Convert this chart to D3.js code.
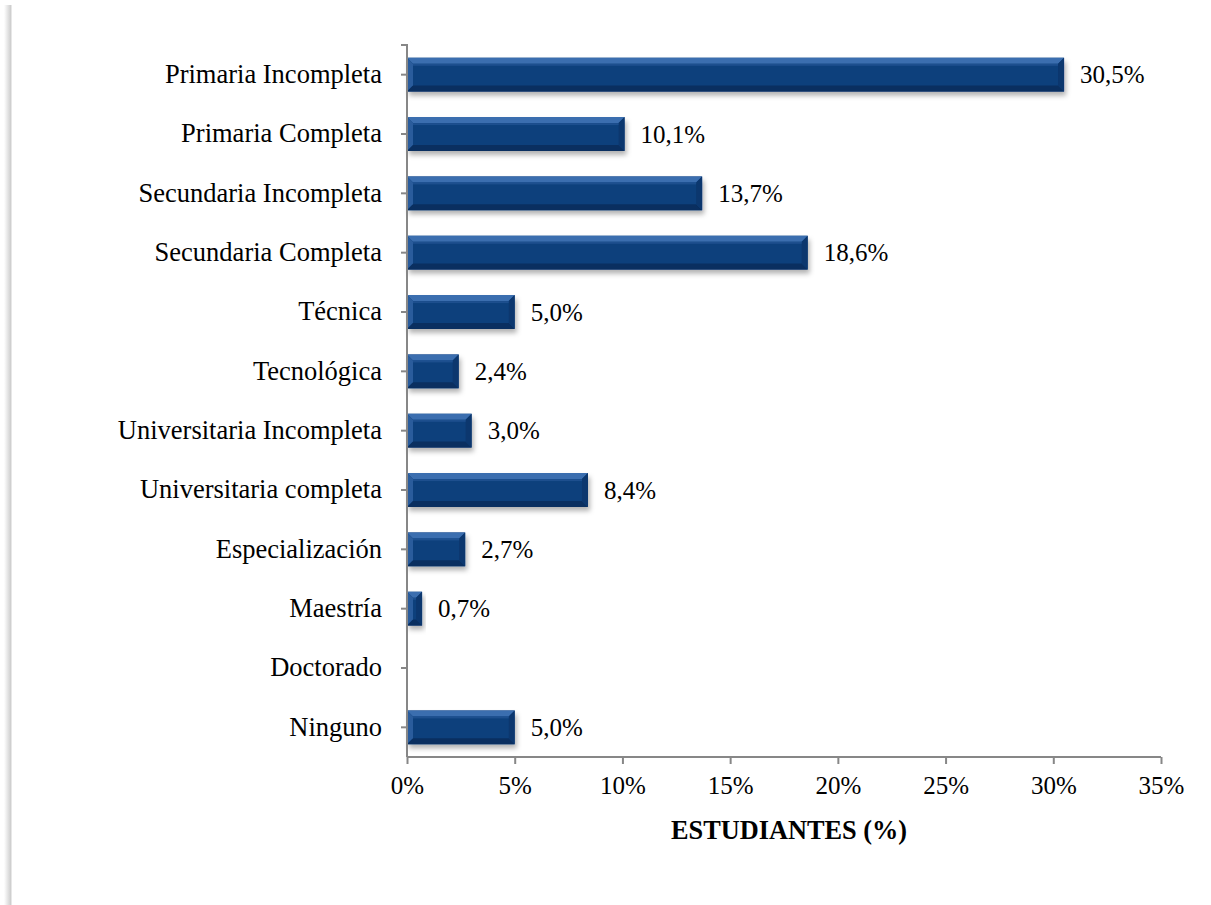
<!DOCTYPE html>
<html>
<head>
<meta charset="utf-8">
<script src="https://cdn.jsdelivr.net/npm/d3@7"></script>
<style>
  html, body { margin: 0; padding: 0; background: #fff; }
  svg { display: block; }
  text { font-family: "Liberation Serif", "Times New Roman", serif; fill: #000; }
</style>
</head>
<body>
<svg id="chart" width="1211" height="905"></svg>
<script>
const categories = [
  "Primaria Incompleta", "Primaria Completa", "Secundaria Incompleta",
  "Secundaria Completa", "Técnica", "Tecnológica", "Universitaria Incompleta",
  "Universitaria completa", "Especialización", "Maestría", "Doctorado", "Ninguno"
];
const values = [30.5, 10.1, 13.7, 18.6, 5.0, 2.4, 3.0, 8.4, 2.7, 0.7, 0, 5.0];
const tickValues = [0, 5, 10, 15, 20, 25, 30, 35];
const axisTitle = "ESTUDIANTES (%)";

const svg = d3.select("#chart");
const defs = svg.append("defs");

// page-edge shadow on the left
const lg = defs.append("linearGradient").attr("id", "edge").attr("x1", 0).attr("x2", 1);
lg.append("stop").attr("offset", "0%").attr("stop-color", "#fff");
lg.append("stop").attr("offset", "100%").attr("stop-color", "#d4d4d4");
svg.append("rect").attr("x", 4).attr("y", 5).attr("width", 6).attr("height", 900).attr("fill", "url(#edge)");
svg.append("rect").attr("x", 10).attr("y", 5).attr("width", 1.5).attr("height", 900).attr("fill", "#cfcfcf");

const flt = defs.append("filter").attr("id", "shadow")
  .attr("x", "-10%").attr("y", "-20%").attr("width", "130%").attr("height", "160%");
flt.append("feDropShadow").attr("dx", 2).attr("dy", 4).attr("stdDeviation", 2.5)
  .attr("flood-color", "#000").attr("flood-opacity", 0.3);

const x0 = 407, x1 = 1161, yTop = 45, yBot = 757;
const x = d3.scaleLinear().domain([0, 35]).range([x0, x1]);
const y = d3.scaleBand().domain(categories).range([yTop, yBot]).paddingInner(0.43).paddingOuter(0.215);

const fmt = v => v.toFixed(1).replace(".", ",") + "%";

// bars with bevel
const bevel = 6;
const g = svg.append("g");
categories.forEach((c, i) => {
  const v = values[i];
  if (v <= 0) return;
  const bx = x(0), bw = x(v) - x(0), by = y(c), bh = y.bandwidth();
  const b = Math.min(bevel, bw / 2, bh / 2);
  const bar = g.append("g");
  bar.append("rect").attr("x", bx).attr("y", by).attr("width", bw).attr("height", bh)
    .attr("fill", "#0f3f7b").attr("filter", "url(#shadow)");
  const P = pts => pts.map(p => p.join(",")).join(" ");
  bar.append("polygon").attr("points", P([[bx, by], [bx + bw, by], [bx + bw - b, by + b], [bx + b, by + b]]))
    .attr("fill", "#3b6eaf");
  bar.append("polygon").attr("points", P([[bx, by], [bx + b, by + b], [bx + b, by + bh - b], [bx, by + bh]]))
    .attr("fill", "#2a5c9c");
  bar.append("polygon").attr("points", P([[bx, by + bh], [bx + b, by + bh - b], [bx + bw - b, by + bh - b], [bx + bw, by + bh]]))
    .attr("fill", "#0a2f60");
  bar.append("polygon").attr("points", P([[bx + bw, by], [bx + bw, by + bh], [bx + bw - b, by + bh - b], [bx + bw - b, by + b]]))
    .attr("fill", "#0c376e");
  bar.append("rect").attr("x", bx + b).attr("y", by + b).attr("width", Math.max(0, bw - 2 * b)).attr("height", 2)
    .attr("fill", "#1d4f8e");

  svg.append("text").attr("x", x(v) + 16).attr("y", by + bh / 2)
    .attr("dy", "0.35em").attr("font-size", 25).text(fmt(v));
});

// axes
const axisColor = "#878787";
const xa = svg.append("g").attr("transform", `translate(0,${yBot})`)
  .call(d3.axisBottom(x).tickValues(tickValues).tickSize(7).tickPadding(12).tickFormat(d => d + "%"));
xa.select(".domain").attr("stroke", axisColor).attr("stroke-width", 2).attr("d", `M${x0},0H${x1}`);
xa.selectAll(".tick line").attr("stroke", axisColor).attr("stroke-width", 2);
xa.selectAll(".tick text").attr("font-size", 25).attr("font-family", "Liberation Serif, Times New Roman, serif").attr("fill", "#000");

const ya = svg.append("g").attr("transform", `translate(${x0},0)`)
  .call(d3.axisLeft(y).tickSize(6).tickPadding(19));
ya.select(".domain").attr("stroke", axisColor).attr("stroke-width", 2).attr("d", `M-6,${yTop}H0V${yBot}`);
ya.selectAll(".tick line").attr("stroke", axisColor).attr("stroke-width", 2);
ya.selectAll(".tick text").attr("font-size", 26.5).attr("font-family", "Liberation Serif, Times New Roman, serif").attr("fill", "#000");

svg.append("text").attr("x", 789).attr("y", 839).attr("text-anchor", "middle")
  .attr("font-size", 26.3).attr("font-weight", "bold").text(axisTitle);
</script>
</body>
</html>
